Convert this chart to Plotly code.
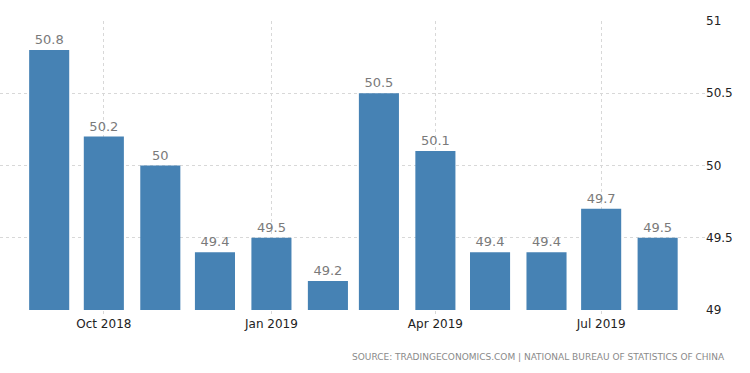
import plotly.graph_objects as go

months = ["2018-09-01", "2018-10-01", "2018-11-01", "2018-12-01", "2019-01-01", "2019-02-01",
          "2019-03-01", "2019-04-01", "2019-05-01", "2019-06-01", "2019-07-01", "2019-08-01"]
values = [50.8, 50.2, 50.0, 49.4, 49.5, 49.2, 50.5, 50.1, 49.4, 49.4, 49.7, 49.5]
labels = ["50.8", "50.2", "50", "49.4", "49.5", "49.2", "50.5", "50.1", "49.4", "49.4", "49.7", "49.5"]
tick_vals = ["2018-10-01", "2019-01-01", "2019-04-01", "2019-07-01"]
tick_text = ["Oct 2018", "Jan 2019", "Apr 2019", "Jul 2019"]
y_ticks = [49, 49.5, 50, 50.5, 51]
y_text = ["49", "49.5", "50", "50.5", "51"]
source = "SOURCE: TRADINGECONOMICS.COM | NATIONAL BUREAU OF STATISTICS OF CHINA"

DAY_MS = 86400000

fig = go.Figure(go.Bar(
    x=months, y=values, text=labels, textposition="outside",
    textfont=dict(color="#7a7a7a", size=13, family="DejaVu Sans"),
    marker=dict(color="#4682b4", line=dict(width=0)),
    width=[22 * DAY_MS] * len(months),
    cliponaxis=False,
))

fig.update_layout(
    width=750, height=373,
    margin=dict(l=0, r=45, t=21, b=63, autoexpand=False),
    plot_bgcolor="white", paper_bgcolor="white",
    showlegend=False,
    font=dict(family="DejaVu Sans", color="#333333", size=12),
    xaxis=dict(
        type="date", range=["2018-08-05", "2019-08-27"], automargin=False,
        tickvals=tick_vals, ticktext=tick_text,
        showgrid=True, gridcolor="#d8d8d8", griddash="dot", gridwidth=1,
        ticks="outside", ticklen=3, tickcolor="#d8d8d8",
        tickfont=dict(size=12, color="#222222", family="DejaVu Sans"),
        zeroline=False, showline=False,
    ),
    yaxis=dict(
        range=[49, 51], side="right", automargin=False,
        tickvals=y_ticks, ticktext=y_text,
        showgrid=True, gridcolor="#d8d8d8", griddash="dot", gridwidth=1,
        tickfont=dict(size=12, color="#222222", family="DejaVu Sans"),
        zeroline=False, showline=False, ticks="",
    ),
    annotations=[dict(
        text=source, xref="paper", yref="paper", x=1.0, y=-0.163,
        xanchor="right", yanchor="middle", showarrow=False, xshift=22,
        font=dict(size=9, color="#8a8a8a", family="DejaVu Sans"),
    )],
)

fig.write_html("out.html", config={"displayModeBar": False},
               post_script="document.body.style.margin='0';")
